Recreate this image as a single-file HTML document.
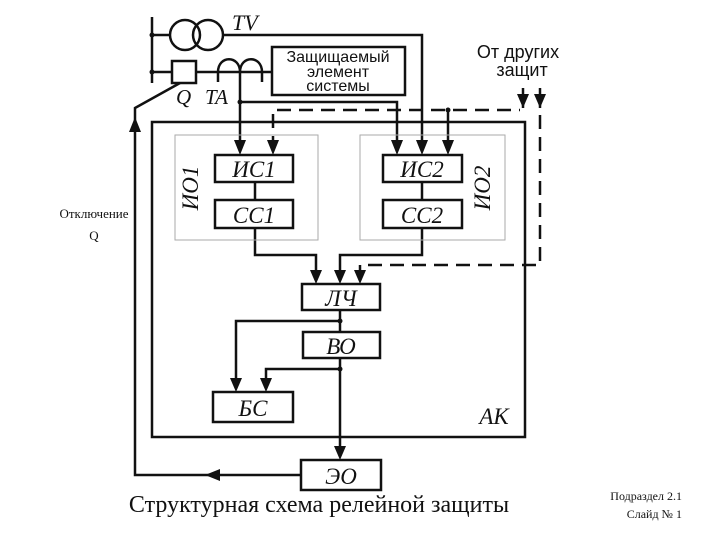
<!DOCTYPE html>
<html><head><meta charset="utf-8"><style>
body{margin:0;background:#fff;width:720px;height:540px;overflow:hidden}
svg{position:absolute;left:0;top:0}
</style></head><body>
<svg width="720" height="540" viewBox="0 0 720 540" xmlns="http://www.w3.org/2000/svg">
<g stroke="#111" stroke-width="2.5" fill="none">
<line x1="152" y1="17" x2="152" y2="83"/>
<line x1="152" y1="35" x2="170" y2="35"/>
<circle cx="185" cy="35" r="15"/><circle cx="208" cy="35" r="15"/>
<polyline points="223,35 422,35 422,150"/>
<line x1="152" y1="72" x2="172" y2="72"/>
<rect x="172" y="61" width="24" height="22"/>
<line x1="196" y1="72" x2="272" y2="72"/>
<path d="M218,82 V72 C218,55 240,55 240,72 C240,55 262,55 262,72 V82"/>
<rect x="272" y="47" width="133" height="48"/>
<polyline points="180,83 135,108 135,475 300,475"/>
<polyline points="240,72 240,150"/>
<polyline points="240,102 397,102 397,150"/>
<line x1="448" y1="110" x2="448" y2="150"/>
<line x1="523" y1="88" x2="523" y2="108"/>
<line x1="540" y1="88" x2="540" y2="108"/>
<rect x="152" y="122" width="373" height="315"/>
<rect x="215" y="155" width="78" height="27"/>
<rect x="215" y="200" width="78" height="28"/>
<rect x="383" y="155" width="79" height="27"/>
<rect x="383" y="200" width="79" height="28"/>
<line x1="255" y1="182" x2="255" y2="200"/>
<line x1="422" y1="182" x2="422" y2="200"/>
<polyline points="255,228 255,255 316,255 316,280"/>
<polyline points="422,228 422,255 340,255 340,280"/>
<line x1="360" y1="265" x2="360" y2="280"/>
<rect x="302" y="284" width="78" height="26"/>
<rect x="303" y="332" width="77" height="26"/>
<rect x="213" y="392" width="80" height="30"/>
<rect x="301" y="460" width="80" height="30"/>
<line x1="340" y1="310" x2="340" y2="332"/>
<polyline points="340,321 236,321 236,388"/>
<polyline points="340,358 340,456"/>
<polyline points="340,369 266,369 266,388"/>
</g>
<g stroke="#aaa" stroke-width="1" fill="none">
<rect x="175" y="135" width="143" height="105"/>
<rect x="360" y="135" width="145" height="105"/>
</g>
<g stroke="#111" stroke-width="2.5" fill="none" stroke-dasharray="14,8">
<polyline points="273,150 273,110 520,110"/>
<polyline points="540,115 540,265 360,265"/>
</g>
<g fill="#111">
<circle cx="152" cy="35" r="2.5"/><circle cx="152" cy="72" r="2.5"/>
<circle cx="240" cy="102" r="2.5"/><circle cx="448" cy="110" r="2.5"/>
<circle cx="340" cy="321" r="2.5"/><circle cx="340" cy="369" r="2.5"/>
<path d="M234,140 L246,140 L240,155 Z"/><path d="M267,140 L279,140 L273,155 Z"/>
<path d="M391,140 L403,140 L397,155 Z"/><path d="M416,140 L428,140 L422,155 Z"/><path d="M442,140 L454,140 L448,155 Z"/>
<path d="M517,94 L529,94 L523,108 Z"/><path d="M534,94 L546,94 L540,108 Z"/>
<path d="M310,270 L322,270 L316,284 Z"/><path d="M334,270 L346,270 L340,284 Z"/><path d="M354,270 L366,270 L360,284 Z"/>
<path d="M230,378 L242,378 L236,392 Z"/><path d="M260,378 L272,378 L266,392 Z"/>
<path d="M334,446 L346,446 L340,460 Z"/>
<path d="M129,132 L141,132 L135,117 Z"/>
<path d="M220,469 L220,481 L205,475 Z"/>
</g>
<g font-family="Liberation Serif, serif" fill="#111">
<text x="232" y="30" font-size="22" font-style="italic">TV</text>
<text x="176" y="104" font-size="21" font-style="italic">Q</text>
<text x="205" y="104" font-size="21" font-style="italic">TA</text>
<text x="338" y="62" font-size="16" text-anchor="middle" font-family="Liberation Sans, sans-serif">Защищаемый</text>
<text x="338" y="77" font-size="16" text-anchor="middle" font-family="Liberation Sans, sans-serif">элемент</text>
<text x="338" y="91" font-size="16" text-anchor="middle" font-family="Liberation Sans, sans-serif">системы</text>
<text x="518" y="58" font-size="18" text-anchor="middle" font-family="Liberation Sans, sans-serif">От других</text>
<text x="522" y="76" font-size="18" text-anchor="middle" font-family="Liberation Sans, sans-serif">защит</text>
<g font-style="italic" font-size="23" text-anchor="middle">
<text x="254" y="177">ИС1</text><text x="254" y="223">СС1</text>
<text x="422" y="177">ИС2</text><text x="422" y="223">СС2</text>
<text x="341" y="306">ЛЧ</text><text x="341" y="354">ВО</text>
<text x="253" y="416">БС</text><text x="341" y="484">ЭО</text>
<text x="494" y="424">АК</text>
<text transform="translate(198,188) rotate(-90)">ИО1</text>
<text transform="translate(490,188) rotate(-90)">ИО2</text>
</g>
<text x="94" y="218" font-size="13" text-anchor="middle">Отключение</text>
<text x="94" y="240" font-size="13" text-anchor="middle">Q</text>
<text x="319" y="512" font-size="24" text-anchor="middle">Структурная схема релейной защиты</text>
<text x="682" y="500" font-size="12" text-anchor="end">Подраздел 2.1</text>
<text x="682" y="518" font-size="12" text-anchor="end">Слайд № 1</text>
</g>
</svg>
</body></html>
